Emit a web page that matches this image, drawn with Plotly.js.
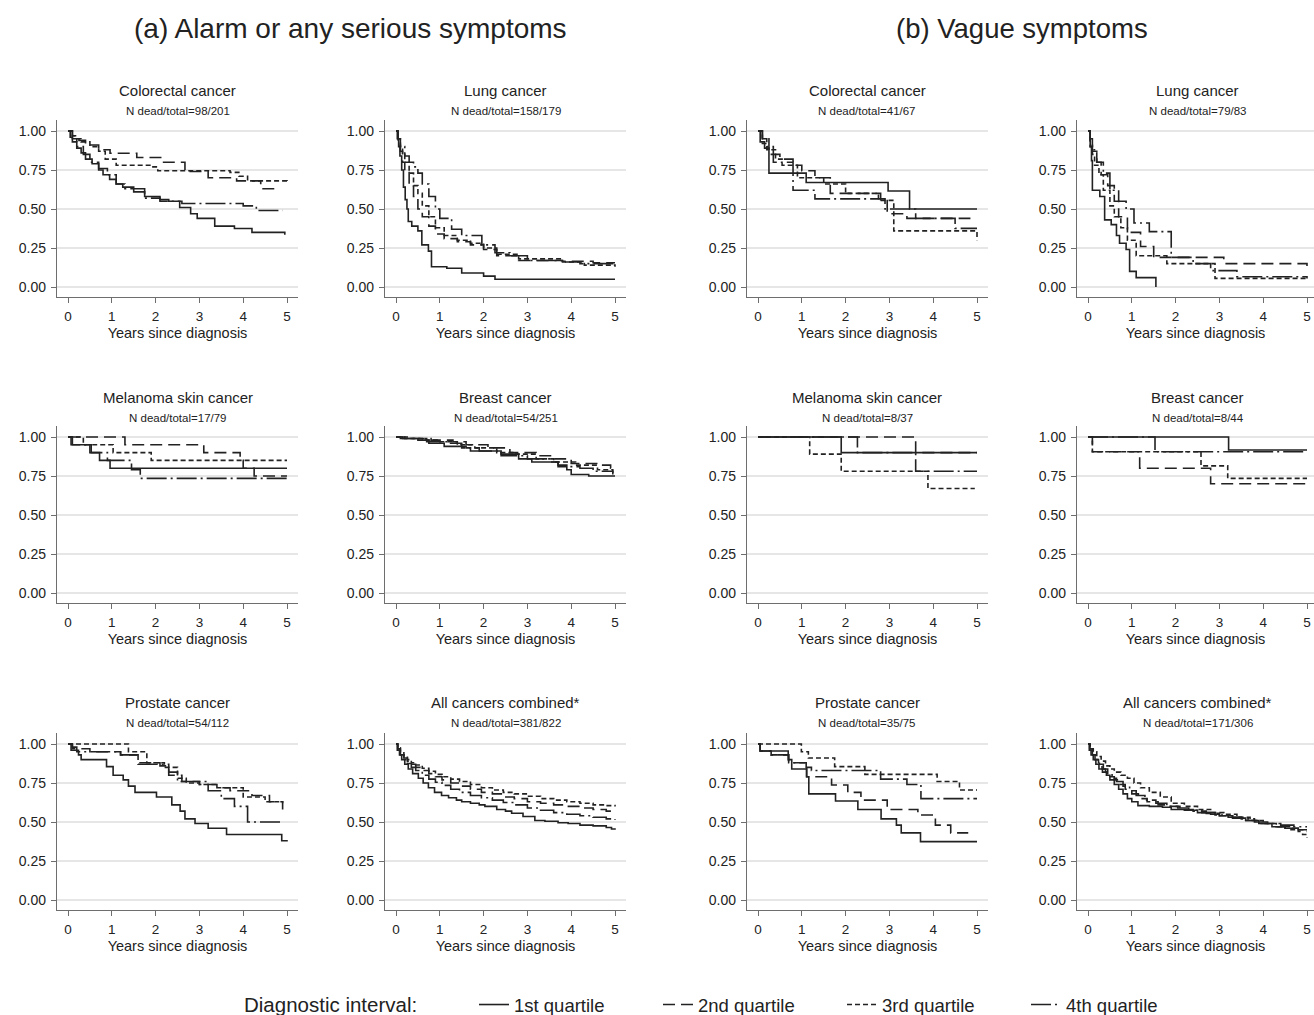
<!DOCTYPE html>
<html>
<head>
<meta charset="utf-8">
<script src="https://cdn.plot.ly/plotly-3.0.1.min.js"></script>
<style>html,body{margin:0;padding:0;background:#fff;}#chart{width:1314px;height:1015px;}</style>
</head>
<body>
<div id="chart"></div>
<script>
// ---------- DATA (years since diagnosis / survival proportion), per panel, quartiles 1..4 ----------
const quartileNames = ['1st quartile', '2nd quartile', '3rd quartile', '4th quartile'];
const legendHeading = 'Diagnostic interval:';
const yTickVals = [0, 0.25, 0.5, 0.75, 1];
const yTickText = ['0.00', '0.25', '0.50', '0.75', '1.00'];
const xTickVals = [0, 1, 2, 3, 4, 5];

// (a) Alarm or any serious symptoms — Colorectal cancer
const aColorectal_t = [
  [0,0.05,0.1,0.2,0.3,0.4,0.55,0.7,0.8,0.95,1.1,1.25,1.5,1.75,2.1,2.3,2.55,2.8,2.95,3.35,3.8,4.2,4.95],
  [0,0.1,0.25,0.4,0.7,0.96,1.57,2.14,2.67,3.2,3.85,4.4,4.76],
  [0,0.1,0.2,0.3,0.5,0.7,0.85,1.1,1.9,2.05,3.7,3.9,4.1,5.0],
  [0,0.1,0.2,0.35,0.5,0.7,0.9,1.1,1.3,1.75,2.1,2.6,4.0,4.3,4.9]
];
const aColorectal_s = [
  [1,0.96,0.93,0.89,0.86,0.82,0.79,0.75,0.72,0.69,0.66,0.64,0.61,0.58,0.56,0.55,0.51,0.47,0.44,0.39,0.375,0.35,0.335],
  [1,0.97,0.94,0.91,0.88,0.857,0.83,0.80,0.74,0.70,0.68,0.63,0.62],
  [1,0.97,0.95,0.93,0.90,0.87,0.82,0.78,0.77,0.745,0.735,0.71,0.68,0.675],
  [1,0.95,0.9,0.85,0.8,0.76,0.72,0.66,0.63,0.57,0.55,0.535,0.52,0.49,0.49]
];
// (a) Lung cancer
const aLung_t = [
  [0,0.03,0.06,0.09,0.13,0.17,0.21,0.25,0.28,0.36,0.5,0.59,0.74,0.81,1.16,1.5,2.0,2.26,5.0],
  [0,0.05,0.1,0.15,0.2,0.3,0.4,0.5,0.6,0.75,0.9,1.1,1.4,1.7,2.0,2.3,2.8,3.8,4.5,5.0],
  [0,0.05,0.1,0.15,0.2,0.3,0.4,0.5,0.6,0.75,0.9,1.1,1.4,1.7,2.0,2.3,2.8,3.8,4.3,5.0],
  [0,0.05,0.1,0.2,0.3,0.4,0.5,0.6,0.75,0.9,1.0,1.27,1.5,1.96,2.26,2.6,3.0,3.8,4.2,5.0]
];
const aLung_s = [
  [1,0.95,0.9,0.84,0.75,0.64,0.56,0.5,0.42,0.39,0.36,0.27,0.23,0.13,0.12,0.09,0.07,0.05,0.05],
  [1,0.93,0.87,0.8,0.74,0.66,0.58,0.5,0.45,0.39,0.34,0.31,0.29,0.27,0.24,0.2,0.17,0.165,0.155,0.155],
  [1,0.95,0.9,0.85,0.8,0.73,0.65,0.6,0.52,0.45,0.38,0.33,0.3,0.28,0.25,0.21,0.18,0.16,0.14,0.13],
  [1,0.95,0.9,0.84,0.8,0.77,0.73,0.66,0.58,0.5,0.44,0.37,0.33,0.27,0.22,0.2,0.17,0.16,0.15,0.15]
];
// (b) Vague symptoms — Colorectal cancer
const bColorectal_t = [
  [0,0.05,0.15,0.25,1.1,2.97,3.46,5.0],
  [0,0.1,0.25,0.5,0.8,1.0,1.3,1.65,2.8,2.95,3.4,4.15,4.85],
  [0,0.1,0.2,0.4,0.55,0.9,1.5,2.0,2.75,3.1,4.6,5.0],
  [0,0.1,0.2,0.35,0.8,1.3,2.9,3.6,4.5,5.0]
];
const bColorectal_s = [
  [1,0.93,0.89,0.73,0.67,0.615,0.5,0.5],
  [1,0.95,0.85,0.82,0.78,0.745,0.70,0.6,0.56,0.47,0.44,0.44,0.44],
  [1,0.92,0.88,0.82,0.78,0.70,0.66,0.6,0.555,0.36,0.36,0.30],
  [1,0.95,0.9,0.8,0.62,0.565,0.5,0.44,0.376,0.376]
];
// (b) Lung cancer
const bLung_t = [
  [0,0.05,0.08,0.1,0.27,0.38,0.53,0.65,0.72,0.87,0.95,1.1,1.55],
  [0,0.05,0.1,0.2,0.3,0.45,0.6,0.7,0.9,1.2,1.5,2.2,3.1,4.9,5.0],
  [0,0.05,0.1,0.15,0.25,0.35,0.5,0.6,0.75,0.9,1.1,1.8,2.9,5.0],
  [0,0.05,0.1,0.2,0.35,0.5,0.7,0.87,1.05,1.4,1.9,2.4,2.8,3.4,5.0]
];
const bLung_s = [
  [1,0.9,0.81,0.62,0.58,0.43,0.4,0.33,0.28,0.24,0.1,0.06,0.0],
  [1,0.93,0.87,0.8,0.72,0.65,0.55,0.45,0.35,0.26,0.19,0.19,0.15,0.15,0.10],
  [1,0.9,0.85,0.78,0.72,0.62,0.52,0.45,0.38,0.3,0.2,0.15,0.055,0.055],
  [1,0.95,0.88,0.8,0.73,0.62,0.55,0.5,0.41,0.355,0.19,0.15,0.105,0.066,0.055]
];
// (a) Melanoma skin cancer
const aMelanoma_t = [
  [0,0.07,0.53,0.72,0.96,5.0],
  [0,1.3,3.1,3.93,4.0,4.25,5.0],
  [0,0.35,1.03,1.9,5.0],
  [0,0.1,0.5,0.9,1.25,1.45,1.65,5.0]
];
const aMelanoma_s = [
  [1,0.95,0.9,0.85,0.80,0.80],
  [1,0.95,0.90,0.85,0.80,0.75,0.75],
  [1,0.95,0.9,0.85,0.85],
  [1,0.95,0.9,0.85,0.85,0.79,0.735,0.735]
];
// (a) Breast cancer
const aBreast_t = [
  [0,0.15,0.5,0.75,1.1,1.6,1.7,2.4,2.8,3.1,3.7,3.9,4.0,4.4,5.0],
  [0,0.3,0.8,1.3,1.6,2.1,2.6,3.2,3.6,4.0,4.6,4.9,5.0],
  [0,0.2,0.6,1.0,1.4,1.8,2.3,2.7,3.2,3.6,4.1,4.6,4.95],
  [0,0.1,0.7,1.2,1.5,1.9,2.4,3.0,3.5,3.7,4.2,4.5,4.95]
];
const aBreast_s = [
  [1,0.99,0.98,0.96,0.94,0.93,0.91,0.89,0.86,0.84,0.82,0.79,0.76,0.75,0.75],
  [1,0.99,0.98,0.97,0.95,0.93,0.9,0.88,0.86,0.83,0.82,0.8,0.8],
  [1,0.99,0.98,0.97,0.95,0.93,0.9,0.89,0.86,0.84,0.82,0.79,0.77],
  [1,0.99,0.97,0.96,0.93,0.91,0.88,0.86,0.84,0.81,0.8,0.78,0.76]
];
// (b) Melanoma skin cancer
const bMelanoma_t = [
  [0,1.9,4.42,5.0],
  [0,3.6,5.0],
  [0,1.18,1.9,3.88,4.95],
  [0,2.27,3.6,5.0]
];
const bMelanoma_s = [
  [1,0.9,0.9,0.9],
  [1,0.9,0.9],
  [1,0.89,0.78,0.67,0.67],
  [1,0.9,0.78,0.78]
];
// (b) Breast cancer
const bBreast_t = [
  [0,3.21,5.0],
  [0,0.1,1.18,2.8,5.0],
  [0,0.1,2.58,3.19,5.0],
  [0,1.53,5.0]
];
const bBreast_s = [
  [1,0.917,0.917],
  [1,0.905,0.80,0.70,0.70],
  [1,0.905,0.815,0.735,0.735],
  [1,0.905,0.905]
];
// (a) Prostate cancer
const aProstate_t = [
  [0,0.07,0.24,0.30,0.88,1.03,1.26,1.38,1.53,2.02,2.37,2.56,2.67,2.9,3.2,3.62,4.88,5.0],
  [0,0.1,0.5,1.2,1.6,2.1,2.3,2.6,3.0,3.4,3.7,4.2,4.6,4.9],
  [0,1.38,1.8,2.2,2.5,2.7,3.0,3.4,4.0,4.5,4.9],
  [0,0.1,0.2,1.2,1.6,2.3,2.5,3.2,3.5,3.8,4.1,4.9]
];
const aProstate_s = [
  [1,0.96,0.93,0.9,0.855,0.80,0.77,0.73,0.69,0.66,0.61,0.57,0.52,0.49,0.46,0.42,0.38,0.375],
  [1,0.97,0.95,0.93,0.88,0.86,0.8,0.76,0.74,0.72,0.7,0.67,0.63,0.58],
  [1,0.95,0.88,0.85,0.78,0.75,0.74,0.72,0.66,0.63,0.62],
  [1,0.98,0.95,0.93,0.87,0.82,0.76,0.70,0.65,0.6,0.5,0.5]
];
// (a) All cancers combined*
const aAll_t = [
  [0,0.03,0.08,0.13,0.2,0.28,0.38,0.51,0.62,0.74,0.88,1.04,1.2,1.38,1.5,1.7,1.9,2.03,2.3,2.5,2.64,2.9,3.17,3.4,3.7,3.93,4.2,4.5,4.8,4.92,5.0],
  [0,0.04,0.1,0.18,0.26,0.35,0.45,0.6,0.75,0.9,1.05,1.25,1.45,1.7,1.95,2.2,2.45,2.7,3.0,3.3,3.6,3.9,4.2,4.5,4.8,5.0],
  [0,0.04,0.1,0.18,0.26,0.35,0.45,0.6,0.75,0.9,1.05,1.25,1.45,1.7,1.95,2.2,2.45,2.7,3.0,3.3,3.6,3.9,4.2,4.5,4.8,5.0],
  [0,0.04,0.1,0.18,0.26,0.35,0.45,0.6,0.75,0.9,1.05,1.25,1.45,1.7,1.95,2.2,2.45,2.7,3.0,3.3,3.6,3.9,4.2,4.5,4.8,5.0]
];
const aAll_s = [
  [1,0.96,0.93,0.9,0.87,0.84,0.81,0.78,0.75,0.72,0.69,0.67,0.655,0.64,0.63,0.62,0.61,0.60,0.58,0.57,0.556,0.535,0.51,0.505,0.495,0.49,0.48,0.475,0.465,0.455,0.45],
  [1,0.97,0.94,0.91,0.89,0.87,0.85,0.83,0.81,0.79,0.77,0.75,0.73,0.71,0.69,0.68,0.66,0.65,0.63,0.62,0.61,0.6,0.59,0.58,0.57,0.565],
  [1,0.975,0.95,0.92,0.9,0.88,0.865,0.845,0.825,0.805,0.79,0.775,0.76,0.74,0.72,0.705,0.69,0.68,0.665,0.65,0.64,0.63,0.62,0.61,0.605,0.60],
  [1,0.96,0.93,0.9,0.875,0.85,0.83,0.8,0.775,0.755,0.735,0.71,0.69,0.67,0.655,0.64,0.625,0.61,0.59,0.575,0.56,0.55,0.54,0.53,0.52,0.515]
];
// (b) Prostate cancer
const bProstate_t = [
  [0,0.05,0.69,0.77,1.11,1.16,1.77,2.28,2.81,3.16,3.27,3.71,5.0],
  [0,0.05,0.3,0.7,1.11,1.68,2.05,2.35,2.95,3.65,4.05,4.4,4.8],
  [0,0.99,1.15,1.75,2.44,4.09,4.6,5.0],
  [0,0.05,0.3,0.7,1.1,1.22,2.8,3.4,3.72,5.0]
];
const bProstate_s = [
  [1,0.955,0.90,0.84,0.79,0.68,0.635,0.58,0.52,0.48,0.43,0.374,0.374],
  [1,0.955,0.93,0.88,0.79,0.737,0.69,0.64,0.58,0.545,0.48,0.43,0.43],
  [1,0.95,0.91,0.855,0.805,0.76,0.705,0.705],
  [1,0.955,0.93,0.88,0.85,0.83,0.775,0.74,0.65,0.65]
];
// (b) All cancers combined*
const bAll_t = [
  [0,0.03,0.07,0.12,0.18,0.25,0.33,0.42,0.5,0.6,0.7,0.8,0.9,1.0,1.14,1.4,1.7,1.9,2.2,2.5,2.8,3.0,3.3,3.6,3.9,4.2,4.5,4.8,5.0],
  [0,0.04,0.1,0.16,0.24,0.32,0.4,0.5,0.6,0.72,0.85,1.0,1.15,1.35,1.6,1.85,2.1,2.4,2.7,3.0,3.3,3.6,3.9,4.2,4.5,4.8,5.0],
  [0,0.05,0.12,0.2,0.3,0.4,0.5,0.6,0.75,0.9,1.05,1.2,1.4,1.65,1.9,2.2,2.5,2.8,3.1,3.4,3.7,4.0,4.3,4.6,4.9,5.0],
  [0,0.04,0.1,0.18,0.26,0.35,0.45,0.55,0.65,0.8,0.95,1.1,1.3,1.55,1.8,2.05,2.3,2.6,2.9,3.2,3.5,3.8,4.1,4.4,4.7,5.0]
];
const bAll_s = [
  [1,0.96,0.93,0.9,0.87,0.84,0.82,0.8,0.77,0.74,0.71,0.68,0.65,0.63,0.605,0.6,0.595,0.58,0.575,0.56,0.55,0.54,0.525,0.51,0.49,0.47,0.46,0.45,0.45],
  [1,0.97,0.94,0.9,0.87,0.84,0.82,0.79,0.77,0.74,0.71,0.68,0.65,0.63,0.61,0.6,0.58,0.57,0.555,0.54,0.53,0.51,0.49,0.47,0.46,0.44,0.44],
  [1,0.97,0.95,0.92,0.89,0.86,0.84,0.82,0.8,0.78,0.75,0.72,0.69,0.66,0.62,0.6,0.58,0.56,0.55,0.53,0.51,0.49,0.47,0.45,0.42,0.40],
  [1,0.96,0.93,0.9,0.87,0.84,0.81,0.78,0.76,0.73,0.7,0.67,0.64,0.62,0.6,0.59,0.575,0.56,0.545,0.53,0.52,0.5,0.49,0.48,0.47,0.47]
];

const panelTitles = ['Colorectal cancer','Lung cancer','Colorectal cancer','Lung cancer',
  'Melanoma skin cancer','Breast cancer','Melanoma skin cancer','Breast cancer',
  'Prostate cancer','All cancers combined*','Prostate cancer','All cancers combined*'];
const panelCounts = ['N dead/total=98/201','N dead/total=158/179','N dead/total=41/67','N dead/total=79/83',
  'N dead/total=17/79','N dead/total=54/251','N dead/total=8/37','N dead/total=8/44',
  'N dead/total=54/112','N dead/total=381/822','N dead/total=35/75','N dead/total=171/306'];
const panelTimes = [aColorectal_t,aLung_t,bColorectal_t,bLung_t,aMelanoma_t,aBreast_t,bMelanoma_t,bBreast_t,aProstate_t,aAll_t,bProstate_t,bAll_t];
const panelSurv  = [aColorectal_s,aLung_s,bColorectal_s,bLung_s,aMelanoma_s,aBreast_s,bMelanoma_s,bBreast_s,aProstate_s,aAll_s,bProstate_s,bAll_s];

// ---------- LAYOUT ----------
const W = 1314, H = 1015;
const FONT = 'Liberation Sans, Arial, Helvetica, sans-serif';
const INK = '#222222';
const AXIS = '#6e6e6e';
const dashes = ['solid', '12px,6px', '5px,3px', '20px,4px,2px,4px'];
const colPx = [[57,298],[385,626],[747,988],[1077,1318]];
const rowTopPx = [120, 426, 733];
const rowZeroPx = [287, 593, 900];
const pxPerUnitY = 156;

const data = [];
const layout = {
  width: W, height: H,
  margin: {l:0, r:0, t:0, b:0, autoexpand: false},
  paper_bgcolor: '#ffffff', plot_bgcolor: '#ffffff',
  font: {family: FONT, color: INK},
  showlegend: true,
  legend: {
    orientation: 'h', x: 474/W, xanchor: 'left', y: (H-1005)/H, yanchor: 'middle',
    font: {size: 18.5, family: FONT, color: INK},
    entrywidth: 139, entrywidthmode: 'pixels', itemwidth: 30,
    bgcolor: 'rgba(0,0,0,0)', tracegroupgap: 0
  },
  annotations: [
    {text: '(a) Alarm or any serious symptoms', x: 350/W, y: 1-28/H, xref:'paper', yref:'paper', xanchor:'center', yanchor:'middle', showarrow:false, font:{size:28, family:FONT, color:INK}},
    {text: '(b) Vague symptoms', x: 1022/W, y: 1-28/H, xref:'paper', yref:'paper', xanchor:'center', yanchor:'middle', showarrow:false, font:{size:27.5, family:FONT, color:INK}},
    {text: legendHeading, x: 419/W, y: 1-1004/H, xref:'paper', yref:'paper', xanchor:'right', yanchor:'middle', showarrow:false, font:{size:20.5, family:FONT, color:INK}}
  ]
};

for (let i = 0; i < 12; i++) {
  const col = i % 4, row = Math.floor(i / 4);
  const sfx = i === 0 ? '' : String(i + 1);
  const [x0, x1] = colPx[col];
  const zeroX = x0 + 11;
  const unitX = 43.8;
  const xr = [(x0 - zeroX) / unitX, (Math.min(x1, W) - zeroX) / unitX];
  const topPx = rowTopPx[row], zeroPx = rowZeroPx[row];
  const botPx = zeroPx + 10;
  const yr = [(zeroPx - botPx) / pxPerUnitY, (zeroPx - topPx) / pxPerUnitY];
  layout['xaxis' + sfx] = {
    domain: [x0 / W, Math.min(x1, W) / W], range: xr, anchor: 'y' + sfx,
    tickvals: xTickVals, ticks: 'outside', ticklen: 5, tickcolor: AXIS, tickwidth: 1,
    showline: true, linecolor: AXIS, linewidth: 1.2, showgrid: false, zeroline: false,
    tickfont: {size: 13.5, family: FONT, color: INK}, ticklabelstandoff: 2,
    title: {text: 'Years since diagnosis', font: {size: 14.5, family: FONT, color: INK}, standoff: 4},
    fixedrange: true
  };
  layout['yaxis' + sfx] = {
    domain: [1 - botPx / H, 1 - topPx / H], range: yr, anchor: 'x' + sfx,
    tickvals: yTickVals, ticktext: yTickText, ticks: 'outside', ticklen: 5, tickcolor: AXIS, tickwidth: 1,
    showline: true, linecolor: AXIS, linewidth: 1.2, showgrid: true, gridcolor: '#e6e6e6', gridwidth: 1.3,
    zeroline: false, tickfont: {size: 14, family: FONT, color: INK}, ticklabelstandoff: 2,
    fixedrange: true
  };
  const cx = ((x0 + x1) / 2) / W;
  const titleY = [90, 397, 702][row];
  layout.annotations.push({text: panelTitles[i], x: cx, y: 1 - titleY / H, xref:'paper', yref:'paper', xanchor:'center', yanchor:'middle', showarrow:false, font:{size:15, family:FONT, color:INK}});
  layout.annotations.push({text: panelCounts[i], x: cx, y: 1 - (titleY + 21) / H, xref:'paper', yref:'paper', xanchor:'center', yanchor:'middle', showarrow:false, font:{size:11.5, family:FONT, color:INK}});

  for (let q = 0; q < 4; q++) {
    data.push({
      type: 'scatter', mode: 'lines',
      x: panelTimes[i][q], y: panelSurv[i][q],
      xaxis: 'x' + sfx, yaxis: 'y' + sfx,
      name: quartileNames[q], legendgroup: 'q' + q, showlegend: i === 0,
      line: {shape: 'hv', color: INK, width: 1.6, dash: dashes[q]},
      hoverinfo: 'skip'
    });
  }
}

Plotly.newPlot('chart', data, layout, {staticPlot: true, displayModeBar: false});
</script>
</body>
</html>
